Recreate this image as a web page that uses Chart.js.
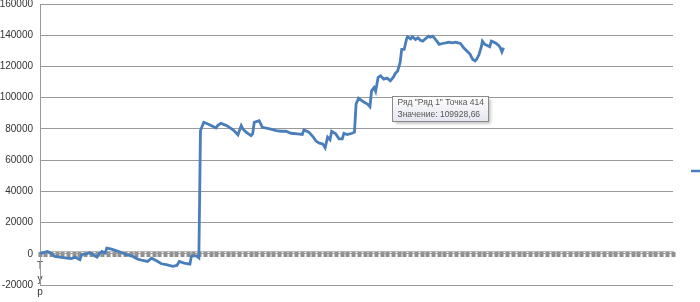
<!DOCTYPE html>
<html>
<head>
<meta charset="utf-8">
<script src="https://cdn.jsdelivr.net/npm/chart.js@4"></script>
<style>
html, body { margin: 0; padding: 0; background: #fff; }
#wrap { width: 700px; height: 302px; }
</style>
</head>
<body>
<div id="wrap"><canvas id="chart"></canvas></div>
<script>
// Номер точки и значение ряда
var pointNo = [1,10,13,19,25,34,40,44,50,52,59,62,66,71,74,77,81,83,89,95,
	101,107,115,121,127,133,138,144,150,156,164,169,172,178,185,187,193,196,
	198,202,205,211,217,219,223,230,238,244,248,250,254,260,262,264,270,274,283,291,
	297,303,309,317,323,325,331,336,340,344,348,351,354,357,359,364,368,372,374,378,
	384,387,389,392,395,399,403,406,408,411,413,416,419,423,427,431,435,437,440,443,
	445,448,451,452,456,458,462,465,468,471,474,478,480,483,486,489,491,495,499,503,
	507,511,514,517,521,525,529,532,535,537,540,543,544,547,550,553,555,558,561,564,
	566,568,570];
var balance = [0,1500,800,-1700,-2100,-2800,-3000,-2100,-3800,-600,0,800,-600,-2100,0,1500,500,3600,3000,1900,
	800,-600,-1700,-3400,-4300,-4900,-2800,-4500,-6400,-7000,-8100,-7500,-4900,-6000,-6600,-1300,-1300,-2600,
	79000,84200,83600,82100,80600,82100,83600,82100,79400,76200,82100,80000,77900,75700,76800,84200,85300,81000,80000,78900,
	78500,78500,77200,76800,76400,79400,77900,75100,72100,70900,70400,67900,74700,73000,78500,76800,73600,73600,77200,76400,
	77200,77900,95900,99700,98500,97000,95900,94200,104400,106500,104000,112900,114000,111900,112500,110800,113300,115400,117100,122400,
	130900,130900,137700,139000,137700,139000,137300,138300,136800,136200,137700,139400,138800,139400,137700,135600,134100,134700,135100,135600,
	135100,135600,135100,134700,132000,129900,127800,124600,123500,124600,127800,133100,136200,134100,133400,132600,136200,135600,134700,133400,
	132000,129300,132000];

var seriesName = 'Ряд 1';
var xTickLabel = ['Т', 'у', 'р', 'н', 'и', 'р'];
var tipPoint = 414;
var tipValue = 109928.66;
var tipLines = ['Ряд "Ряд 1" Точка 414', 'Значение: 109928,66'];

var BLUE = '#4a7ebb';
var FONT = 'Arial, "Liberation Sans", sans-serif';

// Всплывающая подсказка Excel и кусочек легенды справа
var extras = {
	id: 'extras',
	afterDraw: function (chart) {
		var ctx = chart.ctx;
		var area = chart.chartArea;
		var xs = chart.scales.x, ys = chart.scales.y;

		// легенда (видна только линия)
		ctx.save();
		ctx.strokeStyle = BLUE;
		ctx.lineWidth = 2.5;
		ctx.beginPath();
		ctx.moveTo(area.right + 18, 171);
		ctx.lineTo(area.right + 30, 171);
		ctx.stroke();
		ctx.restore();

		// подсказка
		var bx = Math.round(xs.getPixelForValue(tipPoint) + 16) + 0.5;
		var by = Math.round(ys.getPixelForValue(tipValue) + 14) + 0.5;
		var w = 96, h = 25;
		ctx.save();
		ctx.shadowColor = 'rgba(0,0,0,0.28)';
		ctx.shadowBlur = 3;
		ctx.shadowOffsetX = 2;
		ctx.shadowOffsetY = 2;
		var g = ctx.createLinearGradient(0, by, 0, by + h);
		g.addColorStop(0, '#ffffff');
		g.addColorStop(1, '#e4e5f0');
		ctx.fillStyle = g;
		ctx.fillRect(bx, by, w, h);
		ctx.restore();
		ctx.save();
		ctx.strokeStyle = '#8a8a8a';
		ctx.lineWidth = 1;
		ctx.strokeRect(bx, by, w, h);
		ctx.fillStyle = '#575757';
		ctx.font = '8.5px ' + FONT;
		ctx.textBaseline = 'middle';
		ctx.fillText(tipLines[0], bx + 5, by + 6.5);
		ctx.fillText(tipLines[1], bx + 5, by + 18);
		ctx.restore();
	}
};

function noPad(s) {
	s.paddingTop = 0;
	s.paddingBottom = 0;
}

new Chart(document.getElementById('chart'), {
	type: 'line',
	data: {
		datasets: [{
			label: seriesName,
			data: pointNo.map(function (p, i) { return { x: p, y: balance[i] }; }),
			borderColor: BLUE,
			borderWidth: 2.8,
			pointRadius: 0,
			tension: 0,
			fill: false
		}]
	},
	options: {
		responsive: true,
		maintainAspectRatio: false,
		animation: false,
		layout: { padding: { top: 4, right: 27, bottom: 17, left: 0 } },
		plugins: {
			legend: { display: false },
			tooltip: { enabled: false }
		},
		scales: {
			x: {
				type: 'linear',
				min: 1,
				max: 778,
				position: { y: 1500 },
				afterFit: noPad,
				ticks: {
					stepSize: 7,
					autoSkip: false,
					maxRotation: 0,
					padding: 3,
					color: '#333',
					font: { family: FONT, size: 10, lineHeight: 1.3 },
					callback: function (v, i) { return i === 0 ? xTickLabel : ''; }
				},
				grid: {
					drawOnChartArea: false,
					drawTicks: true,
					tickLength: 5,
					tickWidth: 4,
					tickColor: '#8f8f8f'
				},
				border: { display: true, color: '#b5b5b5', width: 1 }
			},
			y: {
				min: -20000,
				max: 160000,
				afterFit: function (s) { s.width = 40; noPad(s); },
				ticks: {
					stepSize: 20000,
					padding: 7,
					color: '#333',
					font: { family: FONT, size: 10 },
					callback: function (v) { return String(v); }
				},
				grid: { color: '#9a9a9a', lineWidth: 1, drawTicks: false },
				border: { color: '#9a9a9a' }
			}
		}
	},
	plugins: [extras]
});
</script>
</body>
</html>
